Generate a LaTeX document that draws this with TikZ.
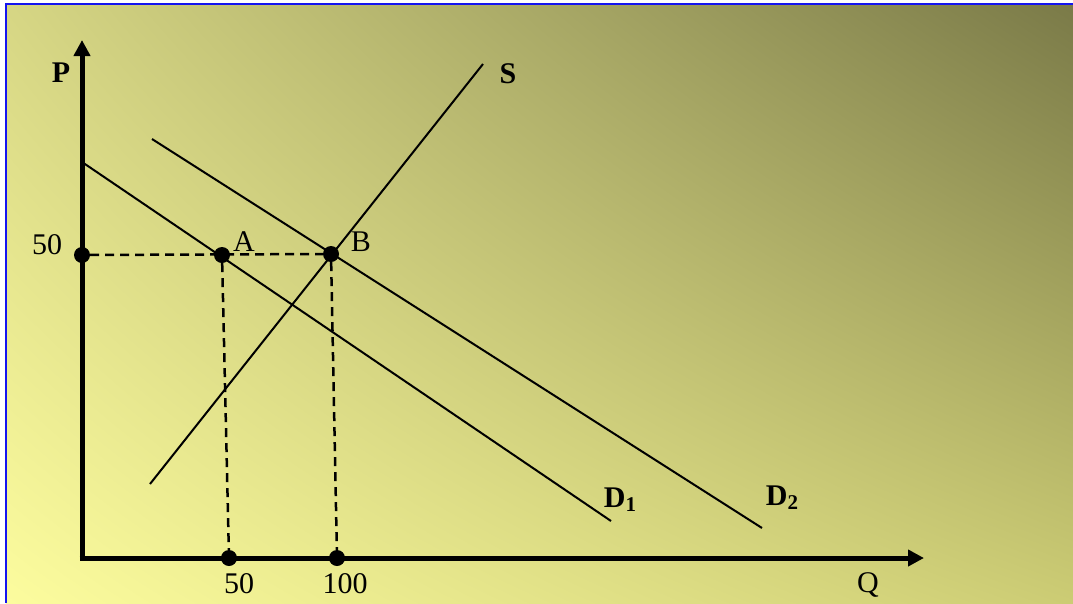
\documentclass[tikz,border=0pt]{standalone}
\usepackage{fontspec}
\setmainfont{Liberation Serif}
\usetikzlibrary{arrows.meta,shadings}
\definecolor{bgLL}{RGB}{252,252,158}
\definecolor{bgUL}{RGB}{214,214,132}
\definecolor{bgUR}{RGB}{122,122,72}
\definecolor{bgLR}{RGB}{204,204,116}
\definecolor{frameblue}{RGB}{20,20,240}
\tikzset{
  axis/.style={line width=5pt,-{Triangle[length=16pt,width=16pt]}},
  curve/.style={line width=2pt},
  guide/.style={line width=2.5pt,dash pattern=on 9pt off 6pt},
  dot/.style={circle,fill=black,inner sep=0pt,minimum size=16pt},
  lbl/.style={font=\fontsize{30}{36}\selectfont},
  blbl/.style={font=\fontsize{30}{36}\selectfont\bfseries},
}
\begin{document}
\begin{tikzpicture}[x=1pt,y=-1pt]
\useasboundingbox (0,0) rectangle (1073,603);
\shade[lower left=bgLL,upper left=bgUL,upper right=bgUR,lower right=bgLR] (6,4) rectangle (1073,603);
\draw[frameblue,line width=2.5pt] (6,603) -- (6,4) -- (1073,4);
% axes
\coordinate (O) at (82,558);
\coordinate (Ptip) at (82,40);
\coordinate (Qtip) at (924,558);
\draw[axis] ([yshift=2.5pt]O) -- (Ptip);
\draw[axis] ([xshift=-2.5pt]O) -- (Qtip);
\node[blbl] (P) at (61,73) {P};
\node[lbl] (Q) at (868,585) {Q};
% demand and supply
\coordinate (d1a) at (82,162);
\coordinate (d1b) at (611,521);
\coordinate (d2a) at (152,139);
\coordinate (d2b) at (762,528);
\coordinate (sa) at (150,484);
\coordinate (sb) at (483,64);
\draw[curve] (d1a) -- (d1b);
\draw[curve] (d2a) -- (d2b);
\draw[curve] (sa) -- (sb);
\node[blbl] (S) at (508,74) {S};
\node[blbl] (D1) at (620,500) {D\raisebox{-4pt}{\fontsize{21}{24}\selectfont 1}};
\node[blbl] (D2) at (782,498) {D\raisebox{-4pt}{\fontsize{21}{24}\selectfont 2}};
% points
\node[dot] (y50) at (82,255) {};
\node[dot] (A) at (222,255) {};
\node[dot] (B) at (331,254) {};
\node[dot] (x50) at (229,558) {};
\node[dot] (x100) at (337,558) {};
\draw[guide] (y50) -- (B);
\draw[guide] (A) -- (x50);
\draw[guide] (B) -- (x100);
\node[lbl] at (47,245) {50};
\node[lbl] at (244,242) {A};
\node[lbl] at (361,242) {B};
\node[lbl] at (239,584) {50};
\node[lbl] at (345,584) {100};
\end{tikzpicture}
\end{document}
